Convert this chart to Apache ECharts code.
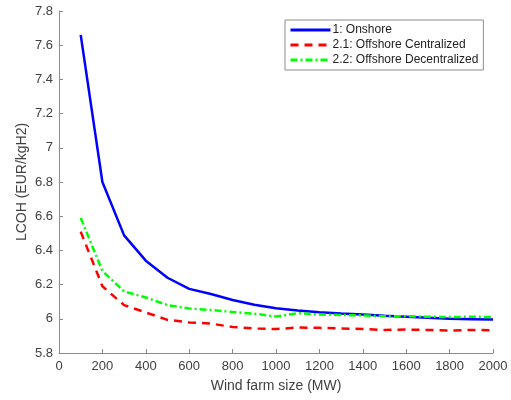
<!DOCTYPE html>
<html>
<head>
<meta charset="utf-8">
<script src="https://cdn.jsdelivr.net/npm/echarts@6/dist/echarts.min.js"></script>
<style>
  html, body { margin: 0; padding: 0; background: #fff; }
  #chart { width: 511px; height: 400px; }
</style>
</head>
<body>
<div id="chart"></div>
<script>
// wind farm size (MW)
var farmSize = [100, 200, 300, 400, 500, 600, 700, 800, 900, 1000,
                1100, 1200, 1300, 1400, 1500, 1600, 1700, 1800, 1900, 2000];
// LCOH values (EUR/kgH2)
var onshore = [7.66, 6.80, 6.488, 6.34, 6.24, 6.175, 6.145, 6.11, 6.082, 6.062,
               6.048, 6.039, 6.031, 6.025, 6.018, 6.012, 6.006, 6.0, 5.998, 5.996];
var offCentral = [6.51, 6.19, 6.08, 6.037, 5.994, 5.979, 5.972, 5.952, 5.943, 5.94,
                  5.949, 5.947, 5.944, 5.94, 5.935, 5.937, 5.935, 5.931, 5.935, 5.933];
var offDecentral = [6.59, 6.28, 6.16, 6.125, 6.08, 6.06, 6.052, 6.04, 6.03, 6.013,
                    6.033, 6.025, 6.022, 6.02, 6.015, 6.015, 6.012, 6.01, 6.012, 6.01];
var seriesNames = ['1: Onshore', '2.1: Offshore Centralized', '2.2: Offshore Decentralized'];

function pairs(ys) {
    return farmSize.map(function (x, i) { return [x, ys[i]]; });
}

var chart = echarts.init(document.getElementById('chart'));
var axisColor = '#8c8c8c';
var labelColor = '#404040';

chart.setOption({
    backgroundColor: '#ffffff',
    animation: false,
    textStyle: { fontFamily: 'Liberation Sans, Arial, sans-serif' },
    grid: { left: 59, right: 18, top: 11, bottom: 47 },
    legend: {
        orient: 'vertical',
        left: 285,
        top: 20,
        padding: [4, 5, 4, 4],
        itemGap: 3,
        itemWidth: 40,
        itemHeight: 12,
        backgroundColor: '#fff',
        borderColor: '#8c8c8c',
        borderWidth: 1,
        borderRadius: 0,
        itemStyle: { opacity: 0 },
        lineStyle: { width: 3 },
        textStyle: { fontSize: 12, color: '#222', padding: [0, 0, 0, -3] },
        data: seriesNames
    },
    xAxis: {
        type: 'value',
        min: 0,
        max: 2000,
        interval: 200,
        name: 'Wind farm size (MW)',
        nameLocation: 'middle',
        nameGap: 26,
        nameMoveOverlap: false,
        nameTextStyle: { fontSize: 14, color: labelColor },
        axisLine: { lineStyle: { color: axisColor, width: 1 } },
        axisTick: { inside: true, length: 4, lineStyle: { color: axisColor } },
        axisLabel: {
            fontSize: 13, color: labelColor, margin: 7,
            formatter: function (v) { return String(v); }
        },
        splitLine: { show: false }
    },
    yAxis: {
        type: 'value',
        min: 5.8,
        max: 7.8,
        interval: 0.2,
        name: 'LCOH (EUR/kgH2)',
        nameLocation: 'middle',
        nameGap: 30,
        nameMoveOverlap: false,
        nameTextStyle: { fontSize: 14, color: labelColor },
        axisLine: { show: true, lineStyle: { color: axisColor, width: 1 } },
        axisTick: { show: true, inside: true, length: 4, lineStyle: { color: axisColor } },
        axisLabel: {
            fontSize: 13, color: labelColor, margin: 6,
            formatter: function (v) { return String(+v.toFixed(1)); }
        },
        splitLine: { show: false }
    },
    series: [{
        name: seriesNames[0],
        type: 'line',
        data: pairs(onshore),
        symbol: 'none',
        lineStyle: { color: '#0000ff', width: 2.5 },
        itemStyle: { color: '#0000ff' }
    }, {
        name: seriesNames[1],
        type: 'line',
        data: pairs(offCentral),
        symbol: 'none',
        lineStyle: { color: '#ff0000', width: 2.5, type: [8, 6] },
        itemStyle: { color: '#ff0000' }
    }, {
        name: seriesNames[2],
        type: 'line',
        data: pairs(offDecentral),
        symbol: 'none',
        lineStyle: { color: '#00ff00', width: 2.5, type: [7, 3, 2, 3] },
        itemStyle: { color: '#00ff00' }
    }]
});
</script>
</body>
</html>
